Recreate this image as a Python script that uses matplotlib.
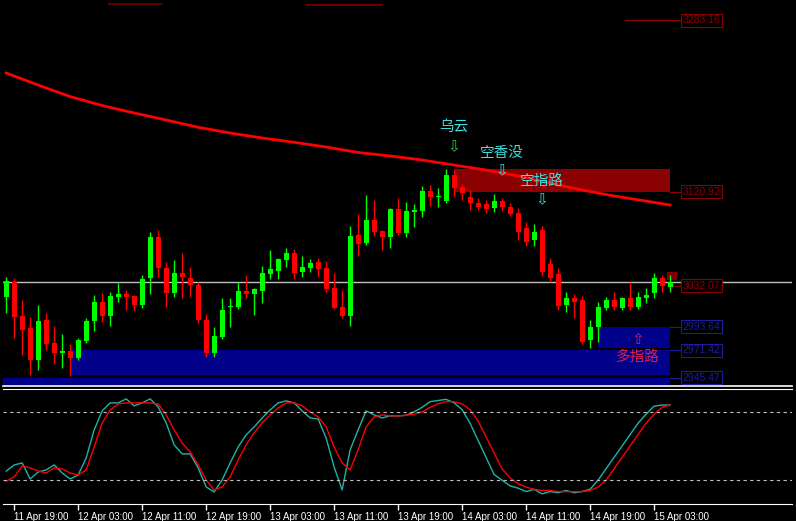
import numpy as np
import matplotlib
matplotlib.use('Agg')
import matplotlib.pyplot as plt
from matplotlib.patches import Rectangle

# H1 bars, 11 Apr 18:00 -> 15 Apr 05:00
opens = [3021.6, 3035.8, 3003.7, 2992.3, 2962.1, 2999.9, 2978.1, 2968.7, 2970.6, 2964.0,
         2980.0, 2998.9, 3016.9, 3003.7, 3021.6, 3024.4, 3022.6, 3014.0, 3039.6, 3078.3,
         3049.0, 3025.4, 3044.3, 3039.6, 3033.0, 2999.9, 2968.7, 2983.8, 3012.2, 3012.2,
         3027.3, 3024.4, 3027.3, 3043.3, 3046.2, 3056.6, 3063.2, 3045.2, 3049.0, 3054.7,
         3049.0, 3030.1, 3012.2, 3003.7, 3080.2, 3072.6, 3094.4, 3084.0, 3078.3, 3104.8,
         3082.1, 3101.9, 3102.9, 3121.8, 3116.1, 3112.3, 3136.9, 3125.6, 3116.1, 3110.4,
         3109.5, 3105.7, 3112.3, 3106.7, 3101.0, 3086.8, 3075.5, 3084.9, 3052.8, 3043.3,
         3014.0, 3020.7, 3018.8, 2981.0, 2993.3, 3011.2, 3018.8, 3011.2, 3020.7, 3012.2,
         3020.7, 3025.4, 3039.6, 3031.1]
highs = [3040.5, 3039.6, 3018.8, 3002.7, 3014.0, 3006.5, 2994.2, 2986.6, 2977.2, 2982.9,
         3001.8, 3023.5, 3025.4, 3026.3, 3034.8, 3028.2, 3023.5, 3042.4, 3083.0, 3084.9,
         3054.7, 3056.6, 3063.2, 3050.0, 3035.8, 3005.5, 2993.3, 3020.7, 3020.7, 3035.8,
         3042.4, 3030.1, 3050.9, 3066.0, 3058.5, 3067.9, 3067.0, 3060.4, 3057.5, 3058.5,
         3055.6, 3044.3, 3028.2, 3088.7, 3100.0, 3118.0, 3113.3, 3084.9, 3105.7, 3115.2,
         3111.4, 3109.5, 3126.5, 3127.4, 3124.6, 3142.6, 3141.6, 3128.4, 3122.7, 3115.2,
         3113.3, 3118.9, 3115.2, 3110.4, 3105.7, 3092.5, 3090.6, 3088.7, 3058.5, 3049.0,
         3026.3, 3024.4, 3022.6, 2999.9, 3016.9, 3021.6, 3026.3, 3021.6, 3035.8, 3026.3,
         3030.1, 3044.3, 3042.4, 3042.4]
lows = [3006.5, 2982.9, 2966.8, 2947.9, 2952.6, 2971.5, 2958.3, 2954.5, 2947.0, 2962.1,
        2978.1, 2989.5, 2998.0, 2994.2, 3016.9, 3009.3, 3008.4, 3011.2, 3024.4, 3040.5,
        3012.2, 3021.6, 3020.7, 3021.6, 2997.0, 2964.9, 2964.9, 2981.9, 2993.3, 3010.3,
        3020.7, 3004.6, 3015.9, 3038.6, 3038.6, 3050.0, 3038.6, 3040.5, 3045.2, 3040.5,
        3026.3, 3010.3, 3001.8, 2994.2, 3060.4, 3070.7, 3079.3, 3066.0, 3067.9, 3080.2,
        3078.3, 3087.8, 3097.2, 3107.6, 3106.7, 3110.4, 3116.1, 3113.3, 3103.8, 3103.8,
        3101.0, 3101.9, 3102.9, 3098.2, 3075.5, 3069.8, 3069.8, 3041.5, 3035.8, 3009.3,
        3007.4, 3001.8, 2977.2, 2973.4, 2979.1, 3009.3, 3009.3, 3009.3, 3009.3, 3010.3,
        3015.9, 3020.7, 3026.3, 3026.3]
closes = [3036.7, 3002.7, 2990.4, 2962.1, 2998.9, 2977.2, 2968.7, 2970.6, 2964.0, 2981.0,
          2998.9, 3016.9, 3003.7, 3022.6, 3024.4, 3021.6, 3014.0, 3038.6, 3078.3, 3049.0,
          3025.4, 3044.3, 3040.5, 3033.0, 2999.9, 2968.7, 2984.8, 3009.3, 3013.1, 3027.3,
          3024.4, 3029.2, 3044.3, 3048.1, 3057.5, 3063.2, 3044.3, 3050.0, 3053.7, 3048.1,
          3029.2, 3011.2, 3003.7, 3079.3, 3071.7, 3094.4, 3083.0, 3078.3, 3104.8, 3082.1,
          3102.9, 3103.8, 3121.8, 3116.1, 3117.1, 3136.9, 3124.6, 3119.9, 3110.4, 3106.7,
          3104.8, 3112.3, 3106.7, 3100.0, 3083.0, 3073.6, 3083.0, 3045.2, 3039.6, 3013.1,
          3020.7, 3016.9, 2979.1, 2993.3, 3012.2, 3018.8, 3012.2, 3020.7, 3012.2, 3021.6,
          3023.5, 3039.6, 3032.1, 3036.2]

# moving average, read every 4 bars
ma_bars = [0, 4, 8, 12, 16, 20, 24, 28, 32, 36, 40, 44, 48, 52, 56, 60, 64, 68, 72, 76, 80, 83]
ma_vals = [3233.3, 3221.9, 3211.0, 3202.6, 3195.5, 3188.9, 3182.0, 3176.6, 3171.9, 3167.8,
           3163.4, 3158.2, 3154.9, 3151.1, 3146.3, 3141.6, 3136.0, 3129.3, 3122.7, 3117.1,
           3112.3, 3108.5]

# stochastic %K / %D
stoch_k = [28.0, 33.4, 35.2, 21.1, 27.2, 29.0, 33.4, 26.4, 21.1, 24.6,
           39.6, 64.2, 80.9, 87.9, 87.9, 91.4, 85.3, 87.9, 91.4, 84.4,
           70.3, 51.0, 43.1, 43.1, 30.8, 14.1, 9.7, 20.2, 35.2, 49.2,
           59.8, 66.8, 74.7, 81.7, 87.9, 89.7, 87.9, 80.9, 74.7, 73.8,
           57.1, 31.6, 11.4, 46.6, 64.2, 80.9, 77.4, 74.7, 76.5, 76.5,
           77.0, 80.0, 84.0, 89.0, 90.0, 91.0, 88.0, 82.0, 70.0, 55.0,
           40.0, 25.0, 20.0, 15.0, 13.0, 10.0, 12.0, 8.0, 10.0, 9.0,
           11.0, 9.0, 10.0, 12.0, 20.0, 30.0, 40.0, 50.0, 60.0, 70.0,
           78.0, 85.0, 86.0, 86.0]
stoch_d = [19.0, 22.9, 32.5, 30.8, 28.1, 26.4, 30.8, 29.9, 26.4, 24.6,
           29.0, 49.2, 70.3, 81.7, 87.0, 87.9, 87.9, 87.9, 87.9, 87.0,
           77.4, 64.2, 52.7, 44.8, 33.4, 20.2, 11.4, 14.1, 22.9, 37.8,
           51.0, 61.5, 70.3, 77.4, 83.5, 87.9, 87.9, 85.3, 80.0, 75.6,
           66.8, 49.2, 35.2, 29.0, 46.6, 66.8, 75.6, 77.4, 76.5, 76.5,
           77.0, 78.0, 80.0, 84.0, 87.0, 89.0, 89.0, 87.0, 82.0, 72.0,
           58.0, 44.0, 30.0, 22.0, 17.0, 14.0, 12.0, 11.0, 11.0, 10.0,
           10.0, 10.0, 10.0, 11.0, 14.0, 20.0, 30.0, 40.0, 50.0, 60.0,
           70.0, 78.0, 84.0, 86.0]

tick_bars = [1, 9, 17, 25, 33, 41, 49, 57, 65, 73, 81]
tick_labels = ['11 Apr 19:00', '12 Apr 03:00', '12 Apr 11:00', '12 Apr 19:00',
               '13 Apr 03:00', '13 Apr 11:00', '13 Apr 19:00', '14 Apr 03:00',
               '14 Apr 11:00', '14 Apr 19:00', '15 Apr 03:00']

# zones: (start bar, end bar, low, high, colour)
zones = [(56, 83, 3120.92, 3143.0, '#8b0000'),
         (74, 83, 2973.5, 2993.64, '#00008b'),
         (8, 83, 2948.0, 2971.42, '#00008b'),
         (-0.4, 83, 2938.4, 2945.47, '#00008b')]

price_tags = [(3283.16, '#8b0000'), (3120.92, '#8b0000'), (3032.07, '#8b0000'),
              (2993.64, '#1c1c9c'), (2971.42, '#1c1c9c'), (2945.47, '#1c1c9c')]

signals = [(56, 3182.0, 3164.0, '乌云', '⇩', '#40e0e0', '#33cc33'),
           (62, 3157.5, 3141.0, '空香没', '⇩', '#40e0e0', '#40e0e0'),
           (67, 3131.0, 3114.0, '空指路', '⇩', '#40e0e0', '#40e0e0'),
           (79, 2964.5, 2981.5, '多指路', '⇧', '#dc2050', '#dc2050')]

cjk = ['Noto Sans CJK SC', 'DejaVu Sans']

fig = plt.figure(figsize=(7.96, 5.21), dpi=100, facecolor='black')
ax = fig.add_axes([3 / 796, 135 / 521, 789 / 796, 386 / 521], facecolor='black')
ax2 = fig.add_axes([3 / 796, 17 / 521, 789 / 796, 115 / 521], facecolor='black')

x = np.arange(len(closes))
o = np.array(opens)
c = np.array(closes)
up = c >= o
cols = np.where(up, '#00ff00', '#ff0000')

for z in zones:
    ax.add_patch(Rectangle((z[0], z[2]), z[1] - z[0], z[3] - z[2], facecolor=z[4],
                           edgecolor='none', zorder=1))
# tiny box at the last bars
ax.add_patch(Rectangle((82.6, 3037.7), 1.3, 7.5, facecolor='#800000', edgecolor='none', zorder=1))

ax.vlines(x, lows, highs, colors=cols, lw=1, zorder=3)
body = np.maximum(np.abs(c - o), 1.0)
ax.bar(x, body, bottom=np.minimum(o, c), width=0.62, color=cols, zorder=3)

ax.plot(ma_bars, ma_vals, color='#ff0000', lw=2, zorder=4)
ax.axhline(closes[-1], color='#c0c0c0', lw=1, zorder=2)

# faint lines near the top
ax.plot([77.4, 84.3], [3283.16, 3283.16], color='#8b0000', lw=1)
ax.plot([12.8, 19.3], [3298.5, 3298.5], color='#5a0000', lw=1.5)
ax.plot([37.6, 47.0], [3298.0, 3298.0], color='#6a0000', lw=1.5)

for val, col in price_tags:
    ax.plot([83, 84.3], [val, val], color=col, lw=0.8)
    ax.text(86.9, val, f'{val:.2f}', color=col, fontsize=7.5, family='Liberation Sans',
            ha='center', va='center',
            bbox=dict(boxstyle='square,pad=0.15', fc='black', ec=col, lw=0.8))

for bar, ty, ay, txt, arr, tcol, acol in signals:
    ax.text(bar, ty, txt, color=tcol, fontsize=10.5, family=cjk, ha='center', va='center', zorder=5)
    ax.text(bar, ay, arr, color=acol, fontsize=11, family=['DejaVu Sans'], ha='center',
            va='center', zorder=5)

ax.set_xlim(-0.4, 98.25)
ax.set_ylim(2937.5, 3302.3)
ax.set_xticks([])
ax.set_yticks([])
for s in ['top', 'left', 'right']:
    ax.spines[s].set_visible(False)
ax.spines['bottom'].set_color('white')
ax.spines['bottom'].set_linewidth(1.2)

# stochastic
ax2.plot(x, stoch_k, color='#20b2aa', lw=1)
ax2.plot(x, stoch_d, color='#ff0000', lw=1)
for lvl in [20, 80]:
    ax2.axhline(lvl, color='#c0c0c0', lw=0.8, ls=(0, (3, 3)))
ax2.set_xlim(-0.4, 98.25)
ax2.set_ylim(-0.9, 100.1)
ax2.set_yticks([])
ax2.set_xticks(tick_bars)
ax2.set_xticklabels(tick_labels, ha='left', color='white', fontsize=7, family='Liberation Sans')
ax2.tick_params(axis='x', colors='white', length=4, width=1, pad=2)
for s in ['left', 'right']:
    ax2.spines[s].set_visible(False)
ax2.spines['top'].set_color('white')
ax2.spines['bottom'].set_color('white')

fig.savefig('out.png', dpi=100, facecolor='black')
